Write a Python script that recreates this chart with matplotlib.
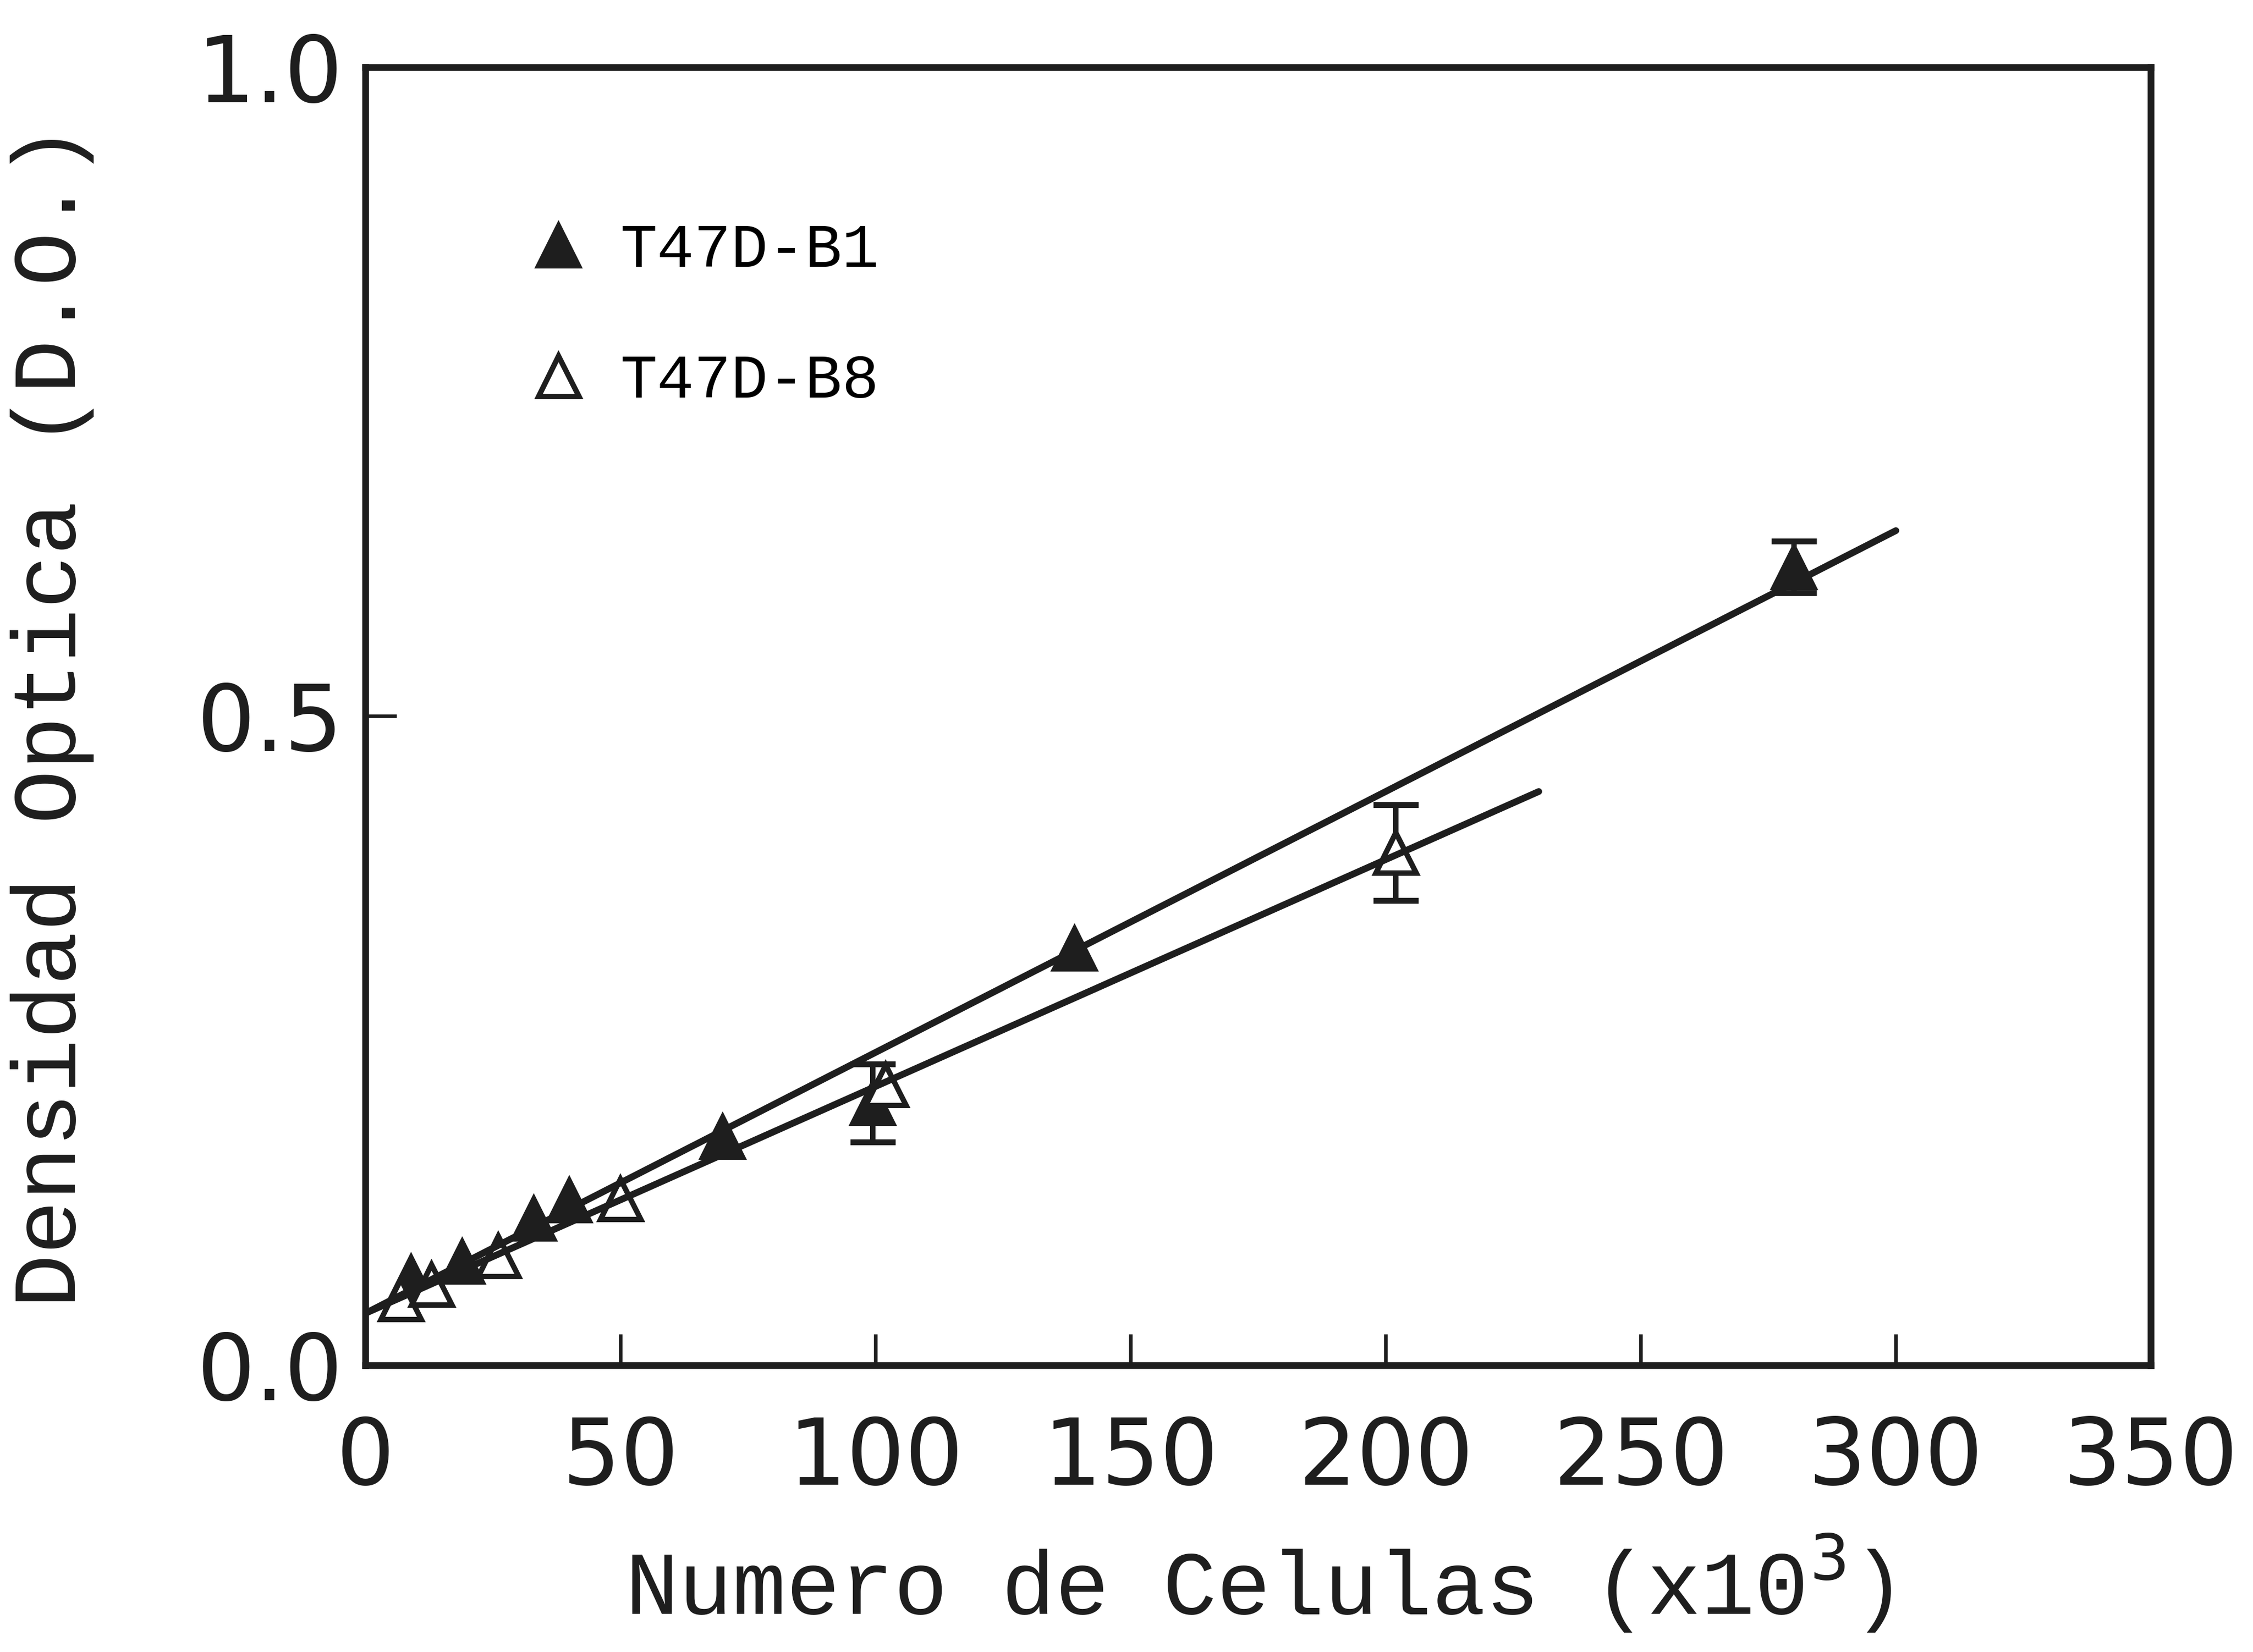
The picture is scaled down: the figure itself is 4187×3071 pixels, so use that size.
import matplotlib
matplotlib.use("Agg")
import matplotlib.pyplot as plt
import numpy as np

INK = "#1e1e1e"

# T47D-B1 (filled triangles)
b1_x = [9, 19, 33, 40, 70, 99.5, 139, 280]
b1_y = [0.068, 0.080, 0.113, 0.127, 0.176, 0.202, 0.321, 0.615]
b1_err = [0, 0, 0, 0, 0, 0.030, 0, 0.020]

# T47D-B8 (open triangles)
b8_x = [7, 13, 26, 50, 102, 202]
b8_y = [0.051, 0.062, 0.084, 0.128, 0.216, 0.395]
b8_err = [0, 0, 0, 0, 0, 0.037]

# fitted lines
b1_fit_x = [0, 300]
b1_fit_y = [0.040, 0.643]
b8_fit_x = [0, 230]
b8_fit_y = [0.040, 0.442]

x_ticks = [0, 50, 100, 150, 200, 250, 300, 350]
y_ticks = [0.0, 0.5, 1.0]

MONO = ["Liberation Mono", "DejaVu Sans Mono"]


def draw_errors(ax, xs, ys, errs):
    xs, ys, errs = np.asarray(xs), np.asarray(ys), np.asarray(errs)
    keep = errs > 0
    ax.errorbar(xs[keep], ys[keep], yerr=errs[keep], fmt="none",
                ecolor=INK, elinewidth=2.4, capsize=10, capthick=2.6, zorder=1)


fig = plt.figure(figsize=(4187 / 300, 3071 / 300), dpi=300)
ax = fig.add_axes([0.1622, 0.1736, 0.7925, 0.7857])

draw_errors(ax, b1_x, b1_y, b1_err)
draw_errors(ax, b8_x, b8_y, b8_err)

ax.plot(b1_x, b1_y, linestyle="none", marker="^", markersize=19,
        markerfacecolor=INK, markeredgecolor=INK, markeredgewidth=1.5,
        label="T47D-B1", zorder=2)
ax.plot(b8_x, b8_y, linestyle="none", marker="^", markersize=18,
        markerfacecolor="white", markeredgecolor=INK, markeredgewidth=2.4,
        label="T47D-B8", zorder=2)

ax.plot(b1_fit_x, b1_fit_y, color=INK, linewidth=3.0, solid_capstyle="round", zorder=3)
ax.plot(b8_fit_x, b8_fit_y, color=INK, linewidth=3.0, solid_capstyle="round", zorder=3)

ax.set_xlim(0, 350)
ax.set_ylim(0, 1.0)
ax.set_xticks(x_ticks)
ax.set_yticks(y_ticks)
ax.set_yticklabels([f"{v:.1f}" for v in y_ticks])

for side in ax.spines.values():
    side.set_linewidth(3.0)
    side.set_color(INK)

ax.tick_params(axis="both", direction="in", length=14, width=1.6, color=INK,
               labelsize=41, labelcolor=INK)
ax.tick_params(axis="x", pad=22)
ax.tick_params(axis="y", pad=10)

ax.set_xlabel("Numero de Celulas (x10$^3$)", fontsize=40, family=MONO, color=INK)
ax.set_ylabel("Densidad Optica (D.O.)", fontsize=40, family=MONO, color=INK)
ax.xaxis.set_label_coords(0.5, -0.128)
ax.yaxis.set_label_coords(-0.152, 0.5)

ax.legend(loc="upper left", bbox_to_anchor=(0.091, 0.881), frameon=False,
          prop={"family": MONO, "size": 27.5}, handlelength=1.0,
          handletextpad=0.5, labelspacing=1.18, borderpad=0, borderaxespad=0,
          numpoints=1)

fig.savefig("out.png", dpi=300, facecolor="white")
